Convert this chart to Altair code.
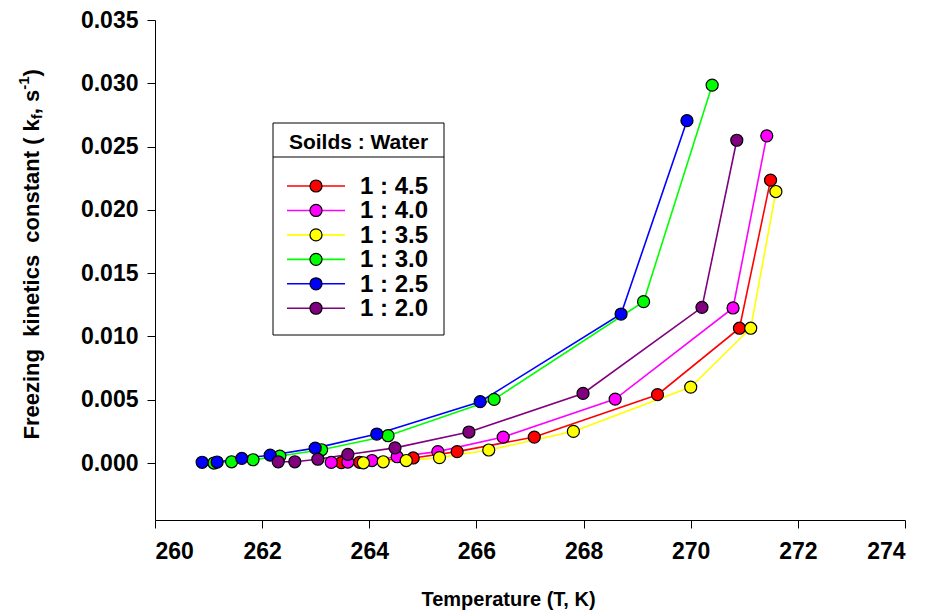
import altair as alt
import pandas as pd

# ---- data ----
series = ["1 : 4.5", "1 : 4.0", "1 : 3.5", "1 : 3.0", "1 : 2.5", "1 : 2.0"]
colors = ["#FF0000", "#FF00FF", "#FFFF00", "#00FF00", "#0000FF", "#800080"]

t_45 = [263.48, 263.82, 264.82, 265.64, 267.08, 269.38, 270.91, 271.49]
k_45 = [0.00003, 0.00006, 0.00040, 0.00090, 0.00205, 0.00540, 0.01065, 0.02235]

t_40 = [263.29, 263.60, 264.05, 264.52, 265.28, 266.50, 268.59, 270.79, 271.42]
k_40 = [0.00005, 0.00008, 0.00020, 0.00050, 0.00090, 0.00205, 0.00505, 0.01225, 0.02585]

t_35 = [263.89, 264.26, 264.69, 265.31, 266.23, 267.81, 270.00, 271.12, 271.59]
k_35 = [0.00002, 0.00010, 0.00020, 0.00043, 0.00103, 0.00250, 0.00600, 0.01065, 0.02145]

t_30 = [261.10, 261.43, 261.83, 262.33, 263.11, 264.35, 266.33, 269.12, 270.40]
k_30 = [0.00000, 0.00010, 0.00026, 0.00055, 0.00105, 0.00216, 0.00503, 0.01275, 0.02985]

t_25 = [260.88, 261.16, 261.62, 262.15, 262.99, 264.14, 266.07, 268.70, 269.93]
k_25 = [0.00006, 0.00008, 0.00037, 0.00062, 0.00118, 0.00229, 0.00485, 0.01177, 0.02705]

t_20 = [262.30, 262.61, 263.04, 263.60, 264.48, 265.86, 267.99, 270.21, 270.86]
k_20 = [0.00010, 0.00010, 0.00030, 0.00068, 0.00120, 0.00245, 0.00550, 0.01230, 0.02550]

x_ticks = [260, 262, 264, 266, 268, 270, 272, 274]
y_ticks = [0.000, 0.005, 0.010, 0.015, 0.020, 0.025, 0.030, 0.035]

# ---- table ----
all_t = [t_45, t_40, t_35, t_30, t_25, t_20]
all_k = [k_45, k_40, k_35, k_30, k_25, k_20]
rows = []
for name, ts, ks in zip(series, all_t, all_k):
    for t, k in zip(ts, ks):
        rows.append({"series": name, "T": t, "k": k})
df = pd.DataFrame(rows)

FONT = "Liberation Sans"
W, H = 750, 500

xscale = alt.Scale(domain=[260, 274], nice=False, zero=False)
yscale = alt.Scale(domain=[-0.0045, 0.035], nice=False, zero=False)
cscale = alt.Scale(domain=series, range=colors)

x_enc = alt.X("T:Q", scale=xscale,
              axis=alt.Axis(values=x_ticks, format="d", title="Temperature (T, K)",
                            titleX=353, titleY=85, titleBaseline="alphabetic",
                            titleAlign="center", labelPadding=12))
y_enc = alt.Y("k:Q", scale=yscale,
              axis=alt.Axis(values=y_ticks, format=".3f", title=None, labelPadding=9))

lines = alt.Chart(df).mark_line(strokeWidth=1.6).encode(
    x=x_enc, y=y_enc,
    color=alt.Color("series:N", scale=cscale, legend=None),
    order=alt.Order("T:Q"),
)

points = alt.Chart(df).mark_circle(size=145, stroke="black", strokeWidth=1.2, opacity=1).encode(
    x=alt.X("T:Q", scale=xscale),
    y=alt.Y("k:Q", scale=yscale),
    fill=alt.Fill("series:N", scale=cscale, legend=None),
)

one = alt.Data(values=[{"a": 1}])

# ---- y-axis title composed with sub/superscripts (rotated text pieces) ----
NB = "\u00a0"
ytitle_parts = [
    # text, font size, offset along text (px from bottom start), sideways shift
    ("Freezing" + NB * 2 + "kinetics" + NB * 2 + "constant" + NB + "(" + NB + "k", 22, 0.0, 0.0),
    ("f", 15, 320.3, 5.0),
    ("," + NB + "s", 22, 325.3, 0.0),
    ("-1", 15, 349.8, -8.0),
    (NB + ")", 22, 363.1, 0.0),
]
yt_start = 439.5 - 20  # bottom of the title, in plot coordinates
yt_x = 32 - 155
ytitle_layers = []
for txt, fs, off, shift in ytitle_parts:
    ytitle_layers.append(alt.Chart(one).mark_text(
        font=FONT, fontWeight="bold", fontSize=fs, angle=270,
        align="left", baseline="middle", color="black").encode(
        x=alt.value(yt_x + shift), y=alt.value(yt_start - off), text=alt.value(txt)))

# ---- hand-drawn legend (pixel offsets inside plot area) ----
box = alt.Chart(one).mark_rect(fill="white", stroke="black", strokeWidth=1).encode(
    x=alt.value(118), x2=alt.value(289), y=alt.value(103), y2=alt.value(315))
divider = alt.Chart(one).mark_rule(color="black", strokeWidth=1).encode(
    x=alt.value(118), x2=alt.value(289), y=alt.value(137))
header = alt.Chart(one).mark_text(font=FONT, fontWeight="bold", fontSize=21,
                                  align="center", baseline="alphabetic", color="black").encode(
    x=alt.value(203.5), y=alt.value(129), text=alt.value("Soilds : Water"))

legend_layers = []
for i, (name, col) in enumerate(zip(series, colors)):
    yc = 166 + 24.45 * i
    d = alt.Data(values=[{"label": name}])
    legend_layers.append(alt.Chart(d).mark_rule(color=col, strokeWidth=1.6).encode(
        x=alt.value(132), x2=alt.value(190), y=alt.value(yc)))
    legend_layers.append(alt.Chart(d).mark_circle(size=145, fill=col, stroke="black",
                                                  strokeWidth=1.2, opacity=1).encode(
        x=alt.value(161), y=alt.value(yc)))
    legend_layers.append(alt.Chart(d).mark_text(font=FONT, fontWeight="bold", fontSize=24,
                                                align="left", baseline="middle", color="black").encode(
        x=alt.value(205), y=alt.value(yc + 1), text="label:N"))

chart = alt.layer(lines, points, box, divider, header, *legend_layers, *ytitle_layers).properties(
    width=W, height=H,
    autosize=alt.AutoSizeParams(type="none"),
    padding={"left": 155, "top": 20, "right": 23, "bottom": 92},
    background="white",
).configure_view(stroke=None).configure_axis(
    grid=False,
    domainColor="black", domainWidth=1,
    tickColor="black", tickSize=8, tickWidth=1,
    labelFont=FONT, labelFontWeight="bold", labelFontSize=23, labelColor="black",
    titleFont=FONT, titleFontWeight="bold", titleFontSize=20, titleColor="black",
)

chart.save("out.html", embed_options={"renderer": "svg", "actions": False})
